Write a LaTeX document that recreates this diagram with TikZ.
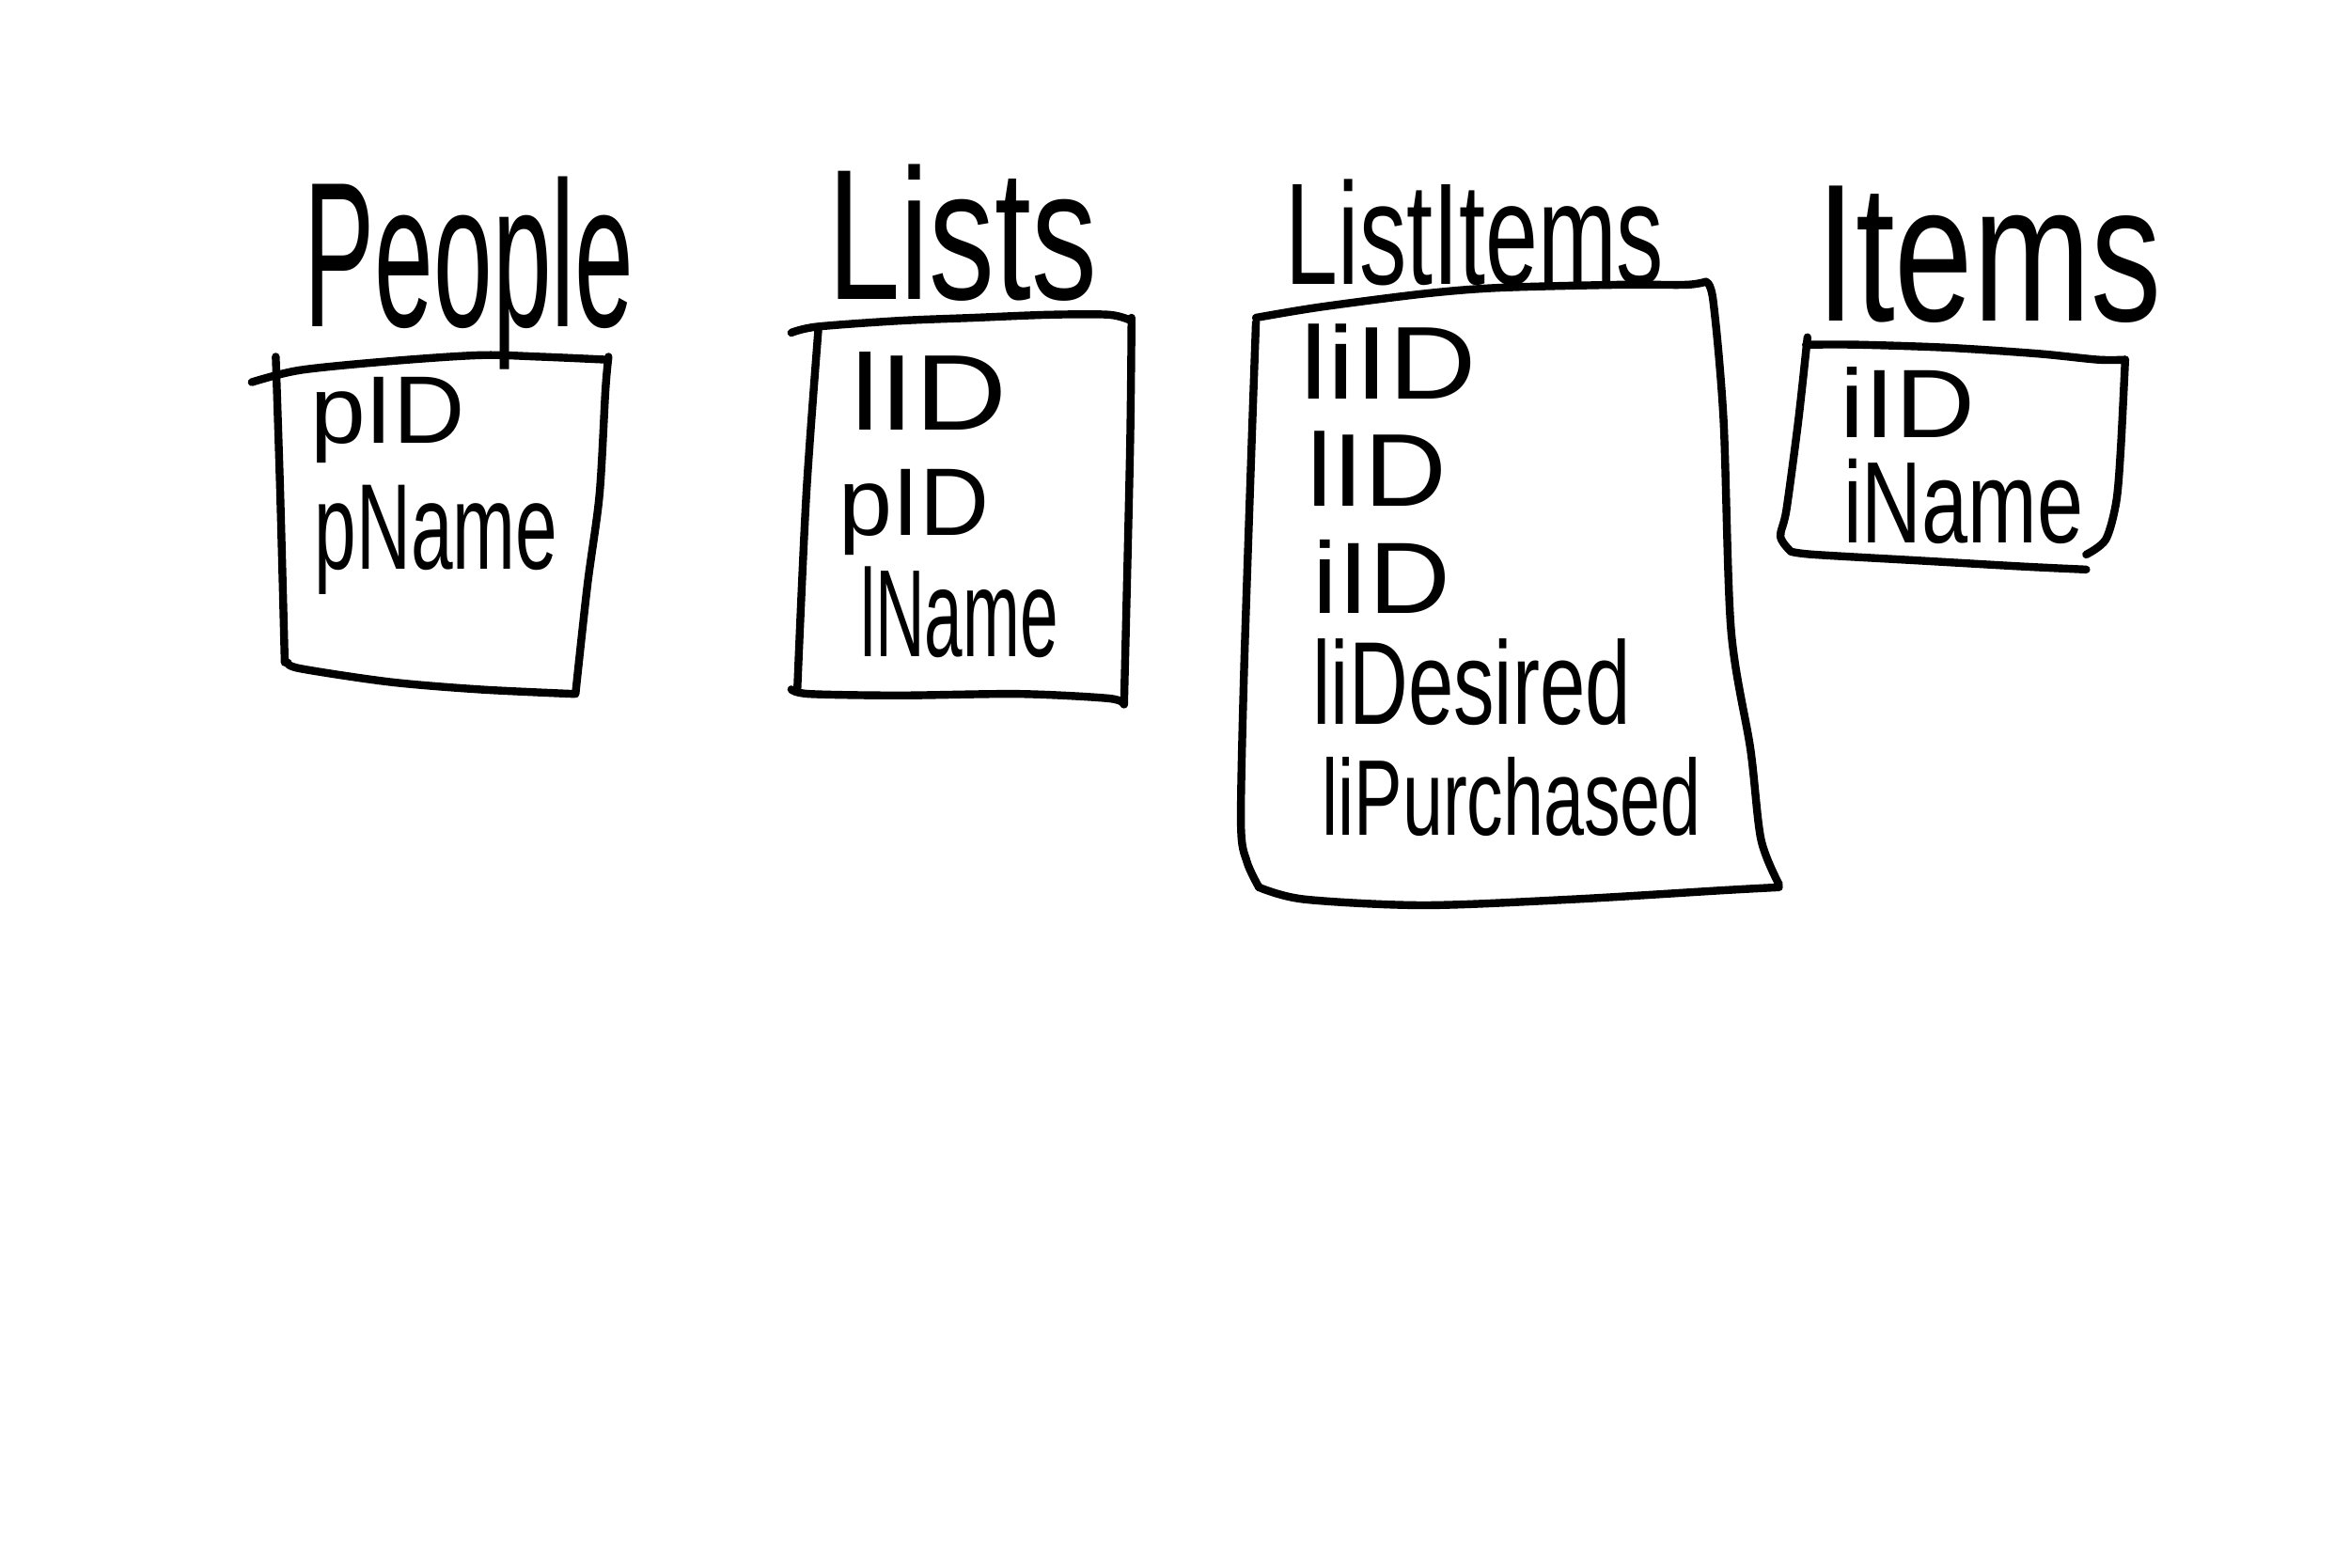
\documentclass[tikz,border=0pt]{standalone}
\usepackage{fontspec}
\setmainfont{Liberation Sans}
\usepackage{graphicx}
\newcommand{\hw}[3]{\resizebox{#1}{#2}{#3}}
\begin{document}
\begin{tikzpicture}[x=0.01cm,y=-0.01cm,
  stroke/.style={line width=1.5pt,line cap=round,line join=round},
  lbl/.style={anchor=base west,inner sep=0pt,outer sep=0pt}]
\fill[white] (0,0) rectangle (1568,1046);
\useasboundingbox (0,0) rectangle (1568,1046);
% ---------- People ----------
\node[lbl] (tpeople) at (203,218) {\hw{2.2cm}{1.0cm}{People}};
\node[lbl] (peopleA) at (207,296) {\hw{1.03cm}{0.44cm}{pID}};
\node[lbl] (peopleB) at (210,380) {\hw{1.62cm}{0.56cm}{pName}};
\draw[stroke] plot[smooth] coordinates {(168,255) (200,247) (260,241) (320,237) (360,238) (405,240)};
\draw[stroke] plot[smooth] coordinates {(184,238) (187,330) (190,442)};
\draw[stroke] plot[smooth] coordinates {(192,442) (200,446) (260,455) (320,460) (383,463)};
\draw[stroke] plot[smooth] coordinates {(406,238) (404,260) (400,330) (392,390) (384,463)};
% ---------- Lists ----------
\node[lbl] (tlists) at (552,200) {\hw{1.8cm}{0.9cm}{Lists}};
\node[lbl] (listsA) at (568,287) {\hw{1.04cm}{0.52cm}{lID}};
\node[lbl] (listsB) at (560,357) {\hw{1.0cm}{0.44cm}{pID}};
\node[lbl] (listsC) at (574,438) {\hw{1.32cm}{0.6cm}{lName}};
\draw[stroke] plot[smooth] coordinates {(528,222) (545,218) (600,214) (650,212) (700,210) (740,210) (755,214)};
\draw[stroke] plot[smooth] coordinates {(546,220) (538,330) (532,460)};
\draw[stroke] plot[smooth] coordinates {(528,460) (540,463) (600,464) (680,463) (740,466) (750,470)};
\draw[stroke] plot[smooth] coordinates {(755,212) (754,300) (750,470)};
% ---------- ListItems ----------
\node[lbl] (tlistitems) at (858,190) {\hw{2.52cm}{0.7cm}{ListItems}};
\node[lbl] (liA) at (868,266) {\hw{1.17cm}{0.5cm}{liID}};
\node[lbl] (liB) at (872,338) {\hw{0.93cm}{0.5cm}{lID}};
\node[lbl] (liC) at (876,409) {\hw{0.92cm}{0.49cm}{iID}};
\node[lbl] (liD) at (876,483) {\hw{2.12cm}{0.57cm}{liDesired}};
\node[lbl] (liE) at (882,557) {\hw{2.53cm}{0.52cm}{liPurchased}};
\draw[stroke] plot[smooth] coordinates {(838,212) (880,205) (950,196) (1000,192) (1080,190) (1125,190) (1138,188)};
\draw[stroke] plot[smooth] coordinates {(1138,188) (1143,200) (1150,280) (1155,420) (1168,500) (1175,560) (1187,590)};
\draw[stroke] plot[smooth] coordinates {(838,215) (835,300) (830,450) (828,550) (832,575) (840,592)};
\draw[stroke] plot[smooth] coordinates {(840,592) (870,600) (950,604) (1050,600) (1150,594) (1187,592)};
% ---------- Items ----------
\node[lbl] (titems) at (1212,214) {\hw{2.3cm}{0.9cm}{Items}};
\node[lbl] (itemsA) at (1228,292) {\hw{0.9cm}{0.47cm}{iID}};
\node[lbl] (itemsB) at (1230,362) {\hw{1.6cm}{0.56cm}{iName}};
\draw[stroke] plot[smooth] coordinates {(1205,230) (1240,230) (1300,232) (1360,236) (1400,240) (1418,240)};
\draw[stroke] plot[smooth] coordinates {(1206,225) (1200,280) (1192,340) (1188,358) (1195,368)};
\draw[stroke] plot[smooth] coordinates {(1418,240) (1415,300) (1412,335) (1405,360) (1392,370)};
\draw[stroke] plot[smooth] coordinates {(1195,368) (1210,370) (1280,374) (1350,378) (1392,380)};
\end{tikzpicture}
\end{document}
